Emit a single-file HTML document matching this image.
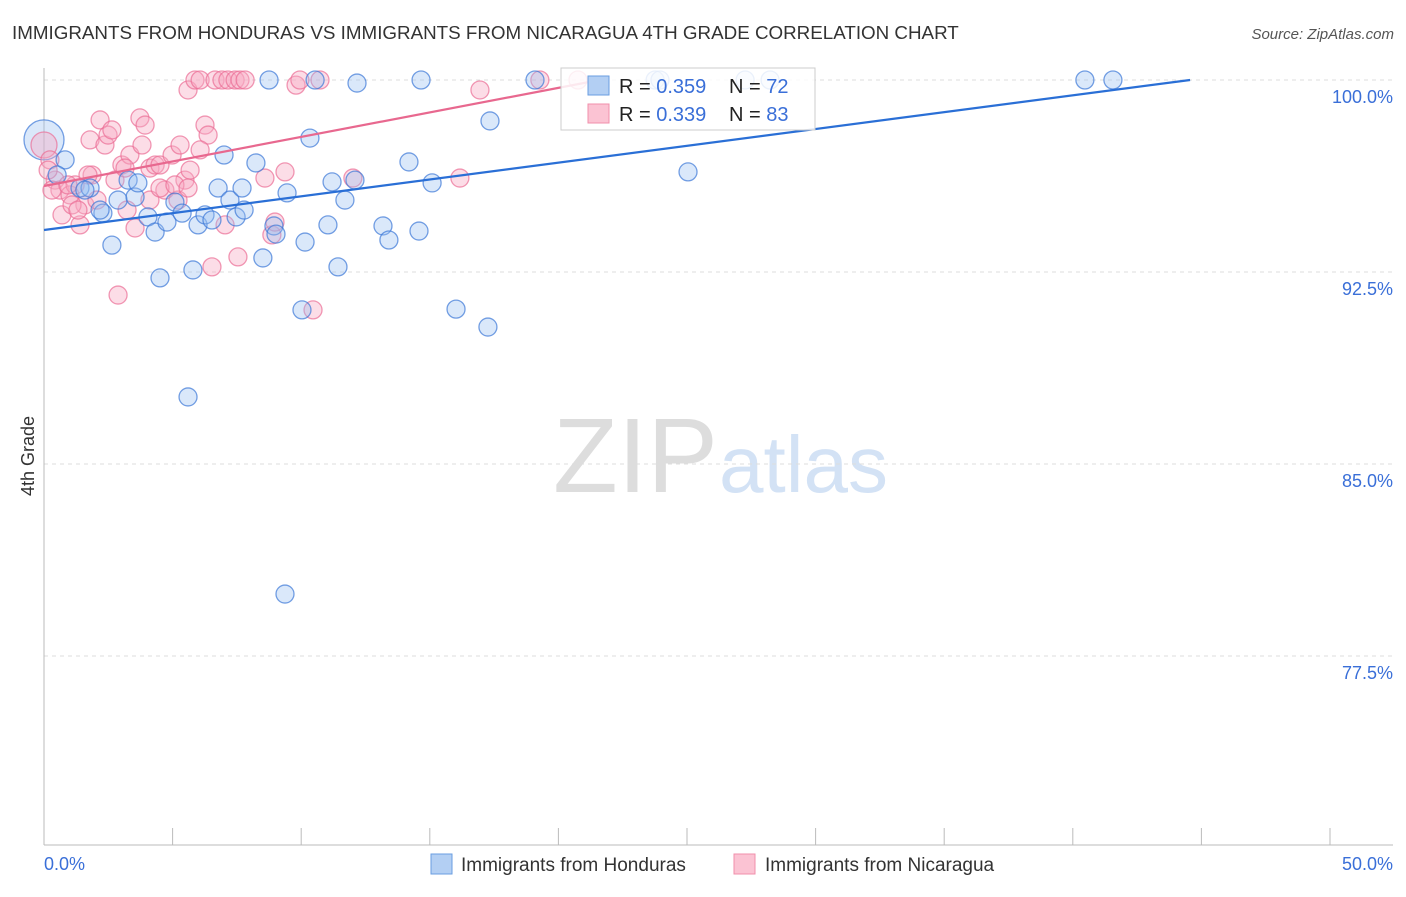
<!DOCTYPE html>
<html><head><meta charset="utf-8"><style>
body{margin:0;background:#fff;font-family:"Liberation Sans",sans-serif}
svg text{font-family:"Liberation Sans",sans-serif}
</style></head><body>
<svg width="1406" height="892" xmlns="http://www.w3.org/2000/svg">
<text x="12" y="39" font-size="18.8" fill="#333">IMMIGRANTS FROM HONDURAS VS IMMIGRANTS FROM NICARAGUA 4TH GRADE CORRELATION CHART</text>
<text x="1394" y="39" font-size="15" fill="#555" font-style="italic" text-anchor="end">Source: ZipAtlas.com</text>
<g>
<text x="553" y="492" font-size="106" fill="#ddd" font-family="Liberation Serif,serif">ZIP</text>
<text x="719" y="492" font-size="80" fill="#d3e2f5">atlas</text>
</g>
<g id="grid"></g><g id="axes"></g>
<g id="pts"></g><g id="lines"></g>
<text transform="translate(34,456) rotate(-90)" font-size="18" fill="#333" text-anchor="middle">4th Grade</text>
<g>
<rect x="561" y="68" width="254" height="62" fill="rgba(255,255,255,0.85)" stroke="#ccc"/>
<rect x="588" y="76" width="21" height="19" fill="#b3cff3" stroke="#6a9ee0"/>
<rect x="588" y="104" width="21" height="19" fill="#fbc3d3" stroke="#f08fab"/>
<text x="619" y="93" font-size="20" fill="#222">R = <tspan fill="#3a6fd8">0.359</tspan></text>
<text x="729" y="93" font-size="20" fill="#222">N = <tspan fill="#3a6fd8">72</tspan></text>
<text x="619" y="121" font-size="20" fill="#222">R = <tspan fill="#3a6fd8">0.339</tspan></text>
<text x="729" y="121" font-size="20" fill="#222">N = <tspan fill="#3a6fd8">83</tspan></text>
</g>
<g>
<rect x="431" y="854" width="21" height="20" fill="#b3cff3" stroke="#6a9ee0"/>
<text x="461" y="871" font-size="19" fill="#333">Immigrants from Honduras</text></g>
<g>
<rect x="734" y="854" width="21" height="20" fill="#fbc3d3" stroke="#f08fab"/>
<text x="765" y="871" font-size="19" fill="#333">Immigrants from Nicaragua</text></g>
</svg>
<script>
const blueX=[0.82,0.51,1.40,1.79,2.29,2.64,2.88,3.27,3.54,3.65,4.04,4.32,4.51,4.78,5.09,5.37,5.60,5.79,5.99,6.26,6.53,6.77,7.00,7.23,7.47,7.70,7.78,8.24,8.51,8.75,8.94,9.02,9.37,9.45,10.03,10.15,10.34,10.54,11.04,11.20,11.43,11.70,12.09,12.17,13.18,13.41,14.19,14.58,14.66,15.09,16.02,17.26,17.34,19.09,23.76,23.95,25.04,27.26,28.23,40.47,41.56,2.18,1.59];
const blueY=[96.88,96.29,95.78,95.78,94.80,93.55,95.31,96.09,95.43,95.98,94.65,94.06,92.27,94.45,95.23,94.80,87.62,92.58,94.34,94.73,94.53,95.78,97.07,95.31,94.65,95.78,94.92,96.76,93.05,100,94.30,93.98,79.92,95.59,91.02,93.67,97.73,100,94.34,96.02,92.70,95.31,96.09,99.88,94.30,93.75,96.80,94.10,100,95.98,91.05,90.35,98.40,100,100,100,96.41,100,100,100,100,94.92,95.70];
const pinkX=[0.23,0.43,0.62,0.70,1.01,1.21,1.40,1.59,1.79,1.87,2.06,2.18,2.37,2.49,2.64,2.76,2.88,3.03,3.23,3.34,3.54,3.73,3.81,3.93,4.12,4.32,4.51,4.70,4.98,5.21,5.29,5.48,5.60,5.68,5.87,6.07,6.26,6.38,6.53,6.65,6.92,7.15,7.43,7.54,7.62,7.82,8.59,8.86,8.98,9.37,9.80,9.95,10.46,10.73,12.01,16.17,16.95,19.28,20.76,0.16,0.31,0.93,1.09,1.32,1.71,3.15,4.12,4.51,5.09,5.60,6.07,7.04];
const pinkY=[96.88,96.09,95.70,94.73,95.51,95.90,94.34,95.12,97.66,96.29,95.31,98.44,97.46,97.85,98.05,96.09,91.60,96.68,94.92,97.07,94.22,98.52,97.46,98.24,96.56,96.68,96.68,95.70,97.07,95.31,97.46,96.09,99.61,96.48,100,100,98.24,97.85,92.70,100,100,100,100,93.09,100,100,96.17,93.95,94.45,96.41,99.80,100,91.02,100,96.17,96.17,99.61,100,100,96.48,95.70,95.90,95.12,94.92,96.29,96.56,95.31,95.78,95.90,95.78,97.27,94.34];
const bigPoints=[{s:'blue',x:0,y:97.66},{s:'pink',x:0,y:97.46}];
const blueLine={x0:0,y0:94.14,x1:44.56,y1:100};
const pinkLine={x0:0,y0:95.86,x1:21.6,y1:100};
const yTicks=[100,92.5,85,77.5];
const yTickLabels=["100.0%","92.5%","85.0%","77.5%"];
const xTicks=[0,5,10,15,20,25,30,35,40,45,50];
const NS="http://www.w3.org/2000/svg";
const X=v=>44+v*25.72, Y=v=>80+(100-v)*25.6;
function mk(t,a,p){const e=document.createElementNS(NS,t);for(const k in a)e.setAttribute(k,a[k]);p.appendChild(e);return e;}
const grid=document.getElementById('grid'),axes=document.getElementById('axes'),pts=document.getElementById('pts'),lines=document.getElementById('lines');
yTicks.forEach((v,i)=>{
 const l=mk('line',{x1:44,x2:1393,y1:Y(v),y2:Y(v),stroke:'#ddd','stroke-dasharray':'4,4'},grid);
 
 
 const t=mk('text',{x:1393,y:Y(v)+23,'font-size':18,fill:'#3a6fd8','text-anchor':'end'},axes);
 t.textContent=yTickLabels[i];
 
 
});
const ax=mk('line',{x1:44,x2:44,y1:68,y2:845,stroke:'#bbb'},axes);


const bx=mk('line',{x1:44,x2:1393,y1:845,y2:845,stroke:'#bbb'},axes);


xTicks.forEach(v=>{const l=mk('line',{x1:X(v),x2:X(v),y1:828,y2:845,stroke:'#bbb'},axes);
 
 });
[[0,"0.0%","start",44],[50,"50.0%","end",1393]].forEach(a=>{const t=mk('text',{x:a[3],y:870,'font-size':18,fill:'#3a6fd8','text-anchor':a[2]},axes);t.textContent=a[1];
 
 });
function dot(x,y,s,r){const c=mk('circle',{cx:X(x),cy:Y(y),r:r,fill:s=='blue'?'rgba(150,190,240,0.35)':'rgba(248,170,195,0.4)',stroke:s=='blue'?'rgba(60,120,215,0.7)':'rgba(235,110,150,0.7)','stroke-width':1.3},pts);
 
 }
bigPoints.forEach(p=>dot(p.x,p.y,p.s,p.s=='blue'?20:13));
pinkX.forEach((x,i)=>dot(x,pinkY[i],'pink',9));
blueX.forEach((x,i)=>dot(x,blueY[i],'blue',9));
[[blueLine,'#2a6fd6','blue-trend-line'],[pinkLine,'#e8688f','pink-trend-line']].forEach(a=>{const L=a[0];
 const l=mk('line',{x1:X(L.x0),y1:Y(L.y0),x2:X(L.x1),y2:Y(L.y1),stroke:a[1],'stroke-width':2.2},lines);
 
 });
</script>
</body></html>
